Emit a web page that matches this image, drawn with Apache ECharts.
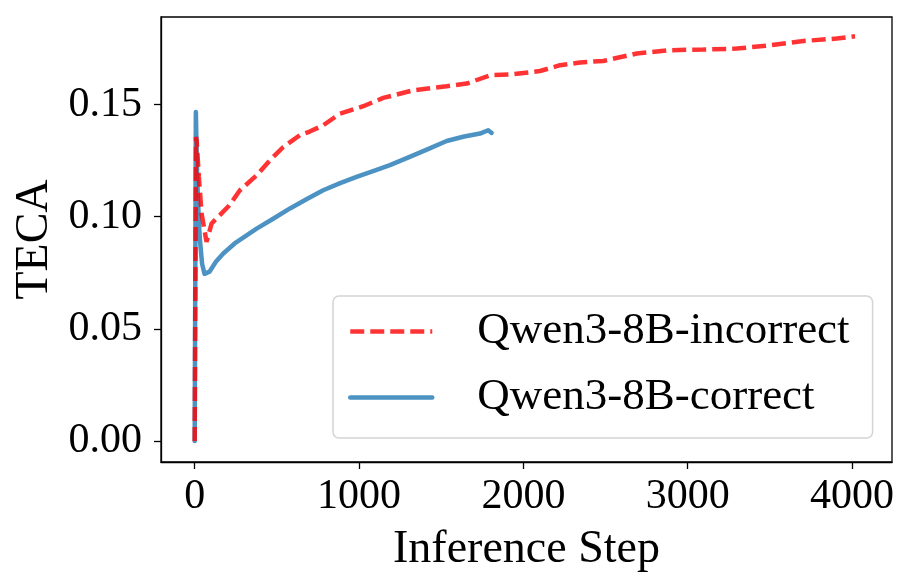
<!DOCTYPE html>
<html>
<head>
<meta charset="utf-8">
<script src="https://cdn.jsdelivr.net/npm/echarts@6/dist/echarts.min.js"></script>
<style>
html,body{margin:0;padding:0;background:#fff;}
#chart{width:914px;height:585px;}
</style>
</head>
<body>
<div id="chart"></div>
<script>
// ---- data ----
const correctSteps = [0, 7, 15, 25, 32, 45, 60, 72, 90, 130, 174, 250, 377, 480, 580, 680, 782, 885, 985, 1090, 1188, 1330, 1430, 1533, 1640, 1736, 1786, 1807];
const correctVals  = [0.0, 0.1467, 0.118, 0.098, 0.0895, 0.079, 0.0745, 0.0739, 0.0755, 0.080, 0.0836, 0.0885, 0.0947, 0.0992, 0.1037, 0.1078, 0.1118, 0.1150, 0.1178, 0.1205, 0.1230, 0.1274, 0.1305, 0.1338, 0.1358, 0.1371, 0.1386, 0.1374];

const incorrectSteps = [0, 8, 12, 25, 42, 72, 103, 153, 210, 275, 377, 458, 539, 640, 700, 782, 884, 1026, 1147, 1330, 1533, 1655, 1797, 1938, 2101, 2223, 2344, 2486, 2690, 2892, 3095, 3298, 3501, 3704, 3907, 4018];
const incorrectVals  = [0.0, 0.1356, 0.134, 0.118, 0.1014, 0.0888, 0.0970, 0.1007, 0.1050, 0.1118, 0.1185, 0.1252, 0.1311, 0.1364, 0.1380, 0.1408, 0.1460, 0.1493, 0.1530, 0.1564, 0.1582, 0.1594, 0.1631, 0.1636, 0.1650, 0.1676, 0.1688, 0.1695, 0.1728, 0.1743, 0.1746, 0.1750, 0.1765, 0.1784, 0.1795, 0.1805];

const xTicks = [0, 1000, 2000, 3000, 4000];
const yTicks = [0, 0.05, 0.10, 0.15];

const seriesNames = ['Qwen3-8B-incorrect', 'Qwen3-8B-correct'];
const xName = 'Inference Step';
const yName = 'TECA';

// ---- chart ----
const zip = (a, b) => a.map((v, i) => [v, b[i]]);
const FONT = "'Liberation Serif', 'Times New Roman', serif";
const chart = echarts.init(document.getElementById('chart'), null, {renderer: 'canvas'});

const axisCommon = {
  axisLine: {show: true, onZero: false, lineStyle: {color: '#000', width: 1.3}},
  axisTick: {show: true, length: 7, lineStyle: {color: '#000', width: 1.3}},
  splitLine: {show: false},
  nameTextStyle: {fontFamily: FONT, fontSize: 46, color: '#000'},
};

chart.setOption({
  backgroundColor: '#fff',
  animation: false,
  grid: {left: 161, right: 22, top: 17, bottom: 123, show: true, borderColor: '#000', borderWidth: 1.3, containLabel: false},
  xAxis: Object.assign({}, axisCommon, {
    type: 'value', min: -205, max: 4243,
    name: xName, nameLocation: 'middle', nameGap: 65,
    axisTick: Object.assign({}, axisCommon.axisTick, {customValues: xTicks}),
    axisLabel: {customValues: xTicks, fontFamily: FONT, fontSize: 42, color: '#000', margin: 14,
      formatter: v => String(v)}
  }),
  yAxis: Object.assign({}, axisCommon, {
    type: 'value', min: -0.0094, max: 0.1891,
    name: yName, nameLocation: 'middle', nameGap: 98,
    axisTick: Object.assign({}, axisCommon.axisTick, {customValues: yTicks}),
    axisLabel: {customValues: yTicks, fontFamily: FONT, fontSize: 42, color: '#000', margin: 19,
      formatter: v => v.toFixed(2)}
  }),
  legend: {
    data: seriesNames,
    orient: 'vertical',
    left: 333, top: 296,
    padding: [13, 23, 18, 15],
    itemWidth: 82, itemHeight: 14, itemGap: 21,
    itemStyle: {opacity: 0},
    lineStyle: {width: 4.5},
    backgroundColor: 'rgba(255,255,255,0.8)',
    borderColor: '#d4d4d4', borderWidth: 1.5, borderRadius: 6,
    textStyle: {fontFamily: FONT, fontSize: 45, color: '#000', padding: [0, 0, 0, 40]}
  },
  series: [
    {
      name: seriesNames[1], type: 'line', data: zip(correctSteps, correctVals),
      showSymbol: false, symbol: 'none',
      lineStyle: {color: '#1f77b4', width: 4.5, opacity: 0.8, cap: 'round', join: 'round'},
      itemStyle: {color: '#1f77b4', opacity: 0.8},
      z: 2
    },
    {
      name: seriesNames[0], type: 'line', data: zip(incorrectSteps, incorrectVals),
      showSymbol: false, symbol: 'none',
      lineStyle: {color: '#ff0000', width: 4.5, opacity: 0.8, type: [14, 6], cap: 'butt'},
      itemStyle: {color: '#ff0000', opacity: 0.8},
      z: 3
    }
  ]
});
</script>
</body>
</html>
